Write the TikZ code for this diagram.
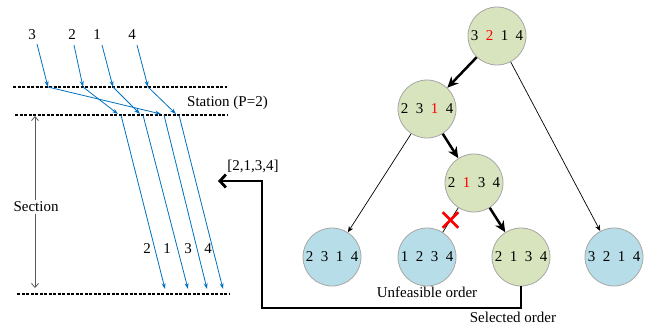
\documentclass[tikz,border=0pt]{standalone}
\usepackage{fontspec}
\setmainfont{Liberation Serif}
\usetikzlibrary{arrows.meta,shapes.misc}
\definecolor{lineblue}{HTML}{0070C0}
\definecolor{nodegreen}{HTML}{D7E4BD}
\definecolor{nodeblue}{HTML}{B7DEE8}
\definecolor{nodeborder}{HTML}{A6A6A6}
\definecolor{sectgray}{HTML}{595959}
\newcommand{\gp}{\hspace{7.5pt}}
\begin{document}
\begin{tikzpicture}[x=1pt,y=-1pt, font=\fontsize{15}{18}\selectfont,
 stationline/.style={line width=2.7pt, dash pattern=on 3pt off 1.5pt},
 train/.style={lineblue, line width=0.8pt, -{Stealth[length=6pt,width=4pt]}},
 lbl/.style={inner sep=0pt},
 state/.style={circle, minimum size=58pt, inner sep=0pt, draw=nodeborder, line width=0.8pt},
 feasible/.style={state, fill=nodegreen},
 leaf/.style={state, fill=nodeblue},
 chosen/.style={line width=2.5pt, -{Stealth[length=11pt,width=10pt]}},
 branch/.style={line width=0.7pt, -{Stealth[length=6pt,width=5pt]}},
 feedback/.style={line width=2.8pt, -{Straight Barb[length=6pt,width=13pt]}},
]
\useasboundingbox (0,0) rectangle (654,327);

% station lines
\coordinate (u1) at (13,87);  \coordinate (u2) at (227,87);
\coordinate (m1) at (15,115); \coordinate (m2) at (228,115);
\coordinate (b1) at (17,294); \coordinate (b2) at (229,294);
\draw[stationline] (u1) -- (u2);
\draw[stationline] (m1) -- (m2);
\draw[stationline] (b1) -- (b2);
\node[anchor=base west, inner sep=0pt] (station) at (187,106) {Station (P=2)};

% section arrow
\coordinate (sa) at (35,116); \coordinate (sb) at (35,288);
\draw[sectgray, line width=0.8pt, {Straight Barb[length=4pt,width=7pt]}-{Straight Barb[length=4pt,width=7pt]}] (sa) -- (sb);
\node[fill=white, inner sep=2pt] (section) at (36,207) {Section};

% train labels
\node[lbl] (n3) at (32,35) {3};
\node[lbl] (n2) at (72,35) {2};
\node[lbl] (n1) at (97,35) {1};
\node[lbl] (n4) at (132,35) {4};
\node[lbl] (o2) at (147,249) {2};
\node[lbl] (o1) at (167,249) {1};
\node[lbl] (o3) at (188,249) {3};
\node[lbl] (o4) at (208,249) {4};

% train paths
\coordinate (s3) at (37,44);  \coordinate (a3) at (48,87);
\coordinate (s2) at (74,45);  \coordinate (a2) at (83,87);
\coordinate (s1) at (102,45); \coordinate (a1) at (113,87);
\coordinate (s4) at (137,45); \coordinate (a4) at (148,87);
\coordinate (d2) at (118,114); \coordinate (e2) at (121,115); \coordinate (f2) at (165,289);
\coordinate (d1) at (140,114); \coordinate (e1) at (143,115); \coordinate (f1) at (188,289);
\coordinate (d3) at (161,114); \coordinate (e3) at (164,115); \coordinate (f3) at (207,289);
\coordinate (d4) at (176,114); \coordinate (e4) at (179,115); \coordinate (f4) at (223,289);
\foreach \k in {1,2,3,4}{
  \draw[train] (s\k) -- (a\k);
  \draw[train] (a\k) -- (d\k);
  \draw[train] (e\k) -- (f\k);
}

% tree
\node[feasible] (root) at (497,36) {3\gp\textcolor{red}{2}\gp1\gp4};
\node[feasible] (a) at (427,109) {2\gp3\gp\textcolor{red}{1}\gp4};
\node[feasible] (b) at (474,183) {2\gp\textcolor{red}{1}\gp3\gp4};
\node[leaf] (l1) at (332,257) {2\gp3\gp1\gp4};
\node[leaf] (l2) at (427,257) {1\gp2\gp3\gp4};
\node[feasible] (l3) at (521,257) {2\gp1\gp3\gp4};
\node[leaf] (l4) at (614,257) {3\gp2\gp1\gp4};

\draw[chosen] (root) -- (a);
\draw[chosen] (a) -- (b);
\draw[chosen] (b) -- (l3);
\draw[branch] (root) -- (l4);
\draw[branch] (a) -- (l1);
\draw[line width=0.7pt] (b) -- coordinate[pos=0.5] (xm) (l2);
\node[cross out, draw=red, line width=2.6pt, minimum size=13pt, inner sep=0pt] (xmark) at (xm) {};

\node (unf) at (427,292) {Unfeasible order};
\node (sel) at (513,317) {Selected order};
\node (ord) at (253,166) {[2,1,3,4]};

% feedback
\coordinate (fa) at (262,308);
\coordinate (fb) at (218,181);
\draw[feedback] (l3.south) |- (fa) |- (fb);
\end{tikzpicture}
\end{document}
